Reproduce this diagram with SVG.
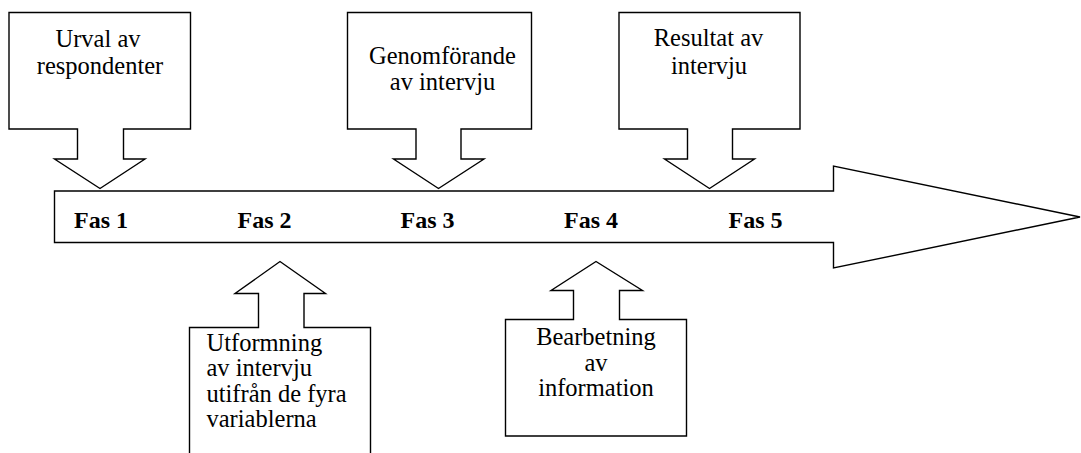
<svg xmlns="http://www.w3.org/2000/svg" width="1081" height="453" viewBox="0 0 1081 453">
<style>
.s{fill:#fff;stroke:#000;stroke-width:1.4;stroke-linejoin:miter}
.t{font-family:"Liberation Serif","Times New Roman",serif;font-size:24.5px;fill:#000}
.b{font-family:"Liberation Serif","Times New Roman",serif;font-size:24px;font-weight:bold;fill:#000}
</style>
<rect width="1081" height="453" fill="#fff"/>
<g id="timeline">
<path class="s" d="M54.5,191 H833.5 V166 L1080,217 L833.5,268 V242.5 H54.5 Z"/>
<text class="b" x="74" y="227.5">Fas 1</text>
<text class="b" x="237.5" y="227.5">Fas 2</text>
<text class="b" x="400.5" y="227.5">Fas 3</text>
<text class="b" x="564" y="227.5">Fas 4</text>
<text class="b" x="728.5" y="227.5">Fas 5</text>
</g>
<g id="connectors"></g>
<g id="urval">
<path class="s" d="M9,12.5 H190.5 V129 H123.5 V159 H145 L100,188.5 L54.5,159 H77.5 V129 H9 Z"/>
<text class="t" text-anchor="middle" x="98" y="46.5">Urval av</text>
<text class="t" text-anchor="middle" x="100" y="73.5">respondenter</text>
</g>
<g id="genomforande">
<path class="s" d="M347.5,12.5 H531.5 V129 H461 V159 H484 L438.5,188.5 L393.5,159 H416 V129 H347.5 Z"/>
<text class="t" text-anchor="middle" x="442.5" y="63.5">Genomförande</text>
<text class="t" text-anchor="middle" x="442.5" y="89.5">av intervju</text>
</g>
<g id="resultat">
<path class="s" d="M619,12.5 H800 V129 H732.5 V159 H754.5 L709.5,188.5 L664.5,159 H687.5 V129 H619 Z"/>
<text class="t" text-anchor="middle" x="708.5" y="45.5">Resultat av</text>
<text class="t" text-anchor="middle" x="709" y="73.5">intervju</text>
</g>
<g id="utformning">
<path class="s" d="M189.5,460 V327.5 H258.5 V293.5 H235 L280,261.5 L325.5,293.5 H304 V327.5 H370.5 V460 Z"/>
<text class="t" x="206.5" y="350.5">Utformning</text>
<text class="t" x="206.5" y="376">av intervju</text>
<text class="t" x="206.5" y="401.5">utifrån de fyra</text>
<text class="t" x="206.5" y="427">variablerna</text>
</g>
<g id="bearbetning">
<path class="s" d="M505.5,436 V319.5 H573.5 V290.5 H551 L596,261.5 L642.5,290.5 H619.5 V319.5 H686.5 V436 Z"/>
<text class="t" text-anchor="middle" x="596" y="345">Bearbetning</text>
<text class="t" text-anchor="middle" x="596" y="370.5">av</text>
<text class="t" text-anchor="middle" x="596" y="396">information</text>
</g>
</svg>
